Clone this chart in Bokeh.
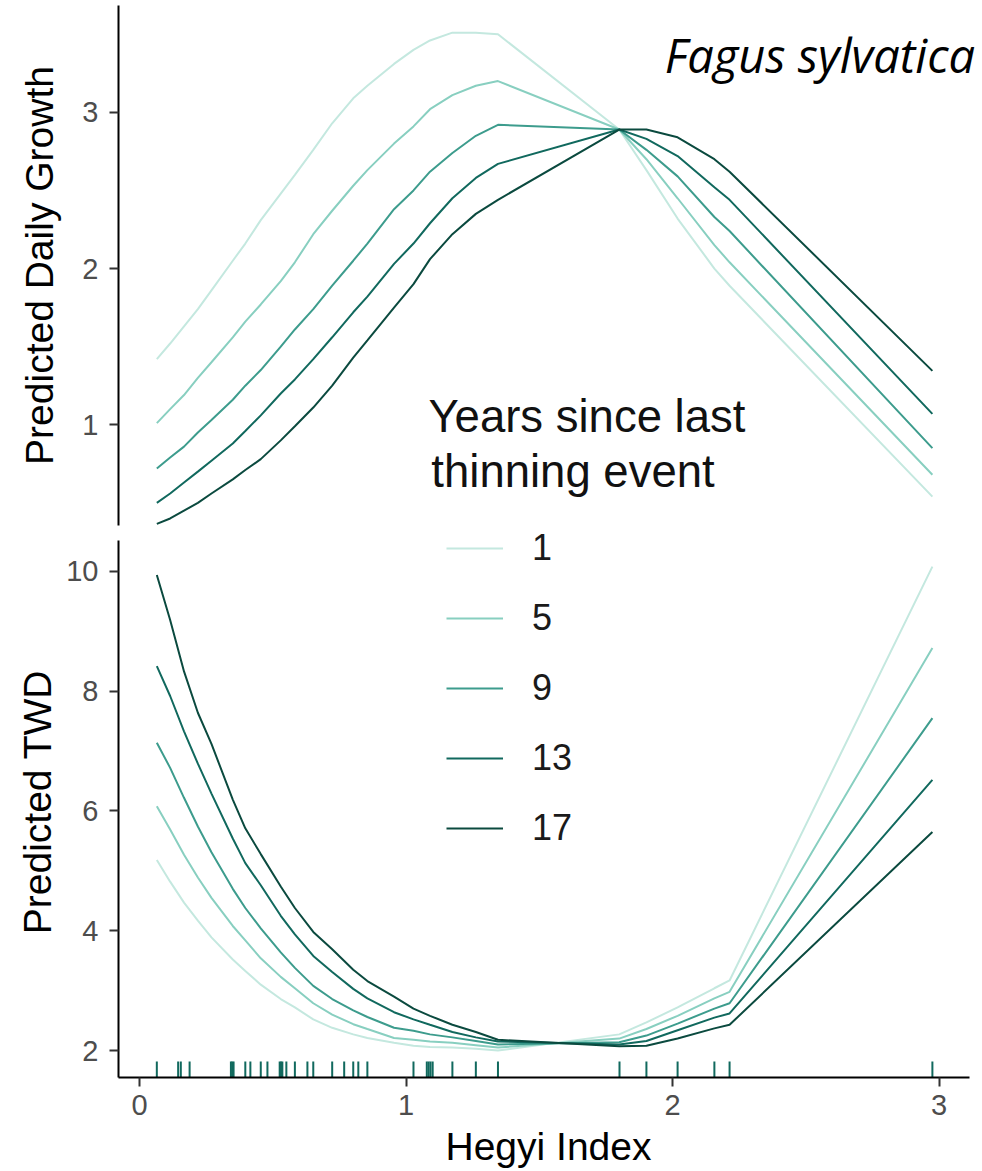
from bokeh.plotting import figure
from bokeh.models import Range1d, Label, Legend, LegendItem
from bokeh.layouts import column
from bokeh.embed import file_html
from bokeh.resources import INLINE

# ---------------- data ----------------
hegyi = [0.065, 0.115, 0.167, 0.219, 0.27, 0.35, 0.397, 0.455, 0.53, 0.583, 0.652,
         0.723, 0.802, 0.855, 0.955, 1.028, 1.09, 1.174, 1.262, 1.345, 1.80, 1.902,
         2.019, 2.157, 2.214, 2.975]

years = ["1", "5", "9", "13", "17"]

growth_1 = [1.42, 1.52, 1.63, 1.74, 1.86, 2.05, 2.16, 2.31, 2.48, 2.60, 2.76, 2.93, 3.09,
            3.17, 3.31, 3.40, 3.46, 3.51, 3.51, 3.50, 2.89, 2.63, 2.32, 2.00, 1.89, 0.54]
growth_5 = [1.01, 1.10, 1.19, 1.30, 1.40, 1.56, 1.66, 1.77, 1.92, 2.04, 2.22, 2.37, 2.53,
            2.63, 2.80, 2.91, 3.02, 3.11, 3.17, 3.20, 2.89, 2.70, 2.45, 2.15, 2.04, 0.68]
growth_9 = [0.72, 0.79, 0.86, 0.95, 1.03, 1.16, 1.25, 1.35, 1.50, 1.61, 1.74, 1.89, 2.05,
            2.16, 2.38, 2.50, 2.62, 2.74, 2.85, 2.92, 2.89, 2.76, 2.59, 2.33, 2.24, 0.85]
growth_13 = [0.50, 0.56, 0.63, 0.70, 0.77, 0.88, 0.96, 1.06, 1.20, 1.29, 1.42, 1.56, 1.72,
             1.82, 2.03, 2.16, 2.29, 2.45, 2.58, 2.67, 2.89, 2.83, 2.72, 2.52, 2.44, 1.07]
growth_17 = [0.365, 0.40, 0.45, 0.50, 0.56, 0.65, 0.71, 0.78, 0.90, 0.99, 1.11, 1.25, 1.43,
             1.54, 1.75, 1.90, 2.06, 2.22, 2.35, 2.44, 2.89, 2.89, 2.84, 2.70, 2.62, 1.345]

twd_1 = [5.18, 4.82, 4.47, 4.17, 3.89, 3.52, 3.33, 3.10, 2.86, 2.72, 2.52, 2.38, 2.27,
         2.21, 2.13, 2.08, 2.06, 2.05, 2.03, 2.00, 2.27, 2.47, 2.72, 3.04, 3.17, 10.08]
twd_5 = [6.08, 5.69, 5.27, 4.89, 4.55, 4.08, 3.84, 3.54, 3.23, 3.04, 2.79, 2.60, 2.44,
         2.36, 2.21, 2.18, 2.15, 2.13, 2.09, 2.05, 2.20, 2.36, 2.58, 2.87, 2.98, 8.72]
twd_9 = [7.14, 6.72, 6.22, 5.74, 5.31, 4.70, 4.38, 4.04, 3.64, 3.38, 3.08, 2.86, 2.67,
         2.56, 2.38, 2.33, 2.27, 2.22, 2.16, 2.10, 2.14, 2.25, 2.45, 2.70, 2.79, 7.55]
twd_13 = [8.42, 7.92, 7.33, 6.79, 6.29, 5.54, 5.13, 4.76, 4.25, 3.94, 3.58, 3.31, 3.03,
          2.87, 2.64, 2.52, 2.43, 2.31, 2.22, 2.15, 2.10, 2.16, 2.34, 2.55, 2.62, 6.52]
twd_17 = [9.94, 9.19, 8.33, 7.64, 7.12, 6.19, 5.71, 5.28, 4.74, 4.38, 3.98, 3.69, 3.35,
          3.16, 2.90, 2.70, 2.58, 2.43, 2.31, 2.18, 2.07, 2.08, 2.20, 2.37, 2.43, 5.65]

rug_hegyi = [0.065, 0.145, 0.155, 0.188, 0.343, 0.348, 0.353, 0.397, 0.416, 0.455, 0.480,
             0.526, 0.531, 0.536, 0.551, 0.583, 0.630, 0.652, 0.723, 0.768, 0.802, 0.821,
             0.855, 1.028, 1.078, 1.085, 1.092, 1.100, 1.174, 1.262, 1.345, 1.801, 1.902,
             2.019, 2.157, 2.214, 2.975]

x_ticks = [0, 1, 2, 3]
growth_ticks = [1, 2, 3]
twd_ticks = [2, 4, 6, 8, 10]

colors = ["#c4e8df", "#88cfc0", "#3d9c8d", "#11695e", "#0b4a3f"]
rug_color = "#11695e"

FONT = "Liberation Sans"
X_AXIS_SPAN = (-0.0788, 3.1144)      # drawn extent of the x axis
X_RANGE = (-0.0788, 3.148)           # plotting area (a little wider for the title)
TOP_Y = (0.355, 3.684)
BOT_AXIS_SPAN = (1.55, 10.517)       # drawn extent of the TWD axis
BOT_Y = (1.55, 10.75)


def style_axes(p):
    p.grid.visible = False
    p.outline_line_color = None
    p.background_fill_color = "white"
    p.border_fill_color = "white"
    for ax in p.axis:
        ax.axis_line_color = "black"
        ax.axis_line_width = 2
        ax.major_tick_line_color = "#333333"
        ax.major_tick_line_width = 2
        ax.major_tick_out = 9
        ax.major_tick_in = 0
        ax.minor_tick_line_color = None
        ax.major_label_text_font = FONT
        ax.major_label_text_font_size = "29px"
        ax.major_label_text_color = "#4d4d4d"
        ax.axis_label_text_font = FONT
        ax.axis_label_text_font_size = "39px"
        ax.axis_label_text_font_style = "normal"
        ax.axis_label_text_color = "black"


# ---------------- top panel ----------------
top = figure(width=980, height=526, x_range=Range1d(*X_RANGE), y_range=Range1d(*TOP_Y),
             output_backend="svg", toolbar_location=None, x_axis_type=None,
             min_border_left=118, min_border_right=2, min_border_top=5, min_border_bottom=1)
style_axes(top)
top.yaxis.ticker = growth_ticks
top.yaxis.axis_label = "Predicted Daily Growth"
top.yaxis.major_label_standoff = 11
top.yaxis.axis_label_standoff = 18

for ys, c in zip([growth_1, growth_5, growth_9, growth_13, growth_17], colors):
    top.line(hegyi, ys, line_color=c, line_width=2)

top.add_layout(Label(x=3.135, y=3.37, text="Fagus sylvatica", text_align="right",
                     text_font="Open Sans", text_font_style="italic", text_font_size="47px",
                     text_color="black", text_baseline="alphabetic"))
top.add_layout(Label(x=1.084, y=1.05, text="Years since last", text_font=FONT,
                     text_font_size="45.5px", text_color="#111111", text_baseline="alphabetic"))
top.add_layout(Label(x=1.095, y=0.703, text="thinning event", text_font=FONT,
                     text_font_size="45.5px", text_color="#111111", text_baseline="alphabetic"))

# ---------------- bottom panel ----------------
bot = figure(width=980, height=644, x_range=top.x_range, y_range=Range1d(*BOT_Y),
             output_backend="svg", toolbar_location=None,
             min_border_left=118, min_border_right=2, min_border_top=0, min_border_bottom=92)
style_axes(bot)
bot.yaxis.ticker = twd_ticks
bot.xaxis.ticker = x_ticks
bot.yaxis.bounds = BOT_AXIS_SPAN
bot.xaxis.bounds = X_AXIS_SPAN
bot.yaxis.axis_label = "Predicted TWD"
bot.xaxis.axis_label = "Hegyi Index"
bot.yaxis.major_label_standoff = 11
bot.xaxis.major_label_standoff = 8
bot.yaxis.axis_label_standoff = 4
bot.xaxis.axis_label_standoff = 7

renderers = []
for ys, c in zip([twd_1, twd_5, twd_9, twd_13, twd_17], colors):
    renderers.append(bot.line(hegyi, ys, line_color=c, line_width=2))

span = BOT_AXIS_SPAN[1] - BOT_AXIS_SPAN[0]
rug_y0 = [BOT_AXIS_SPAN[0]] * len(rug_hegyi)
rug_y1 = [BOT_AXIS_SPAN[0] + 0.03 * span] * len(rug_hegyi)
bot.segment(x0=rug_hegyi, y0=rug_y0, x1=rug_hegyi, y1=rug_y1, line_color=rug_color, line_width=2)

legend = Legend(items=[LegendItem(label=y, renderers=[r]) for y, r in zip(years, renderers)],
                location=(328, 224), orientation="vertical",
                glyph_width=57, glyph_height=50, label_height=50, spacing=20,
                label_standoff=29, padding=0, margin=0,
                border_line_color=None, background_fill_alpha=0,
                label_text_font=FONT, label_text_font_size="36px", label_text_color="#1a1a1a")
bot.add_layout(legend)

layout = column(top, bot, spacing=0)
open("out.html", "w").write(file_html(layout, INLINE))
